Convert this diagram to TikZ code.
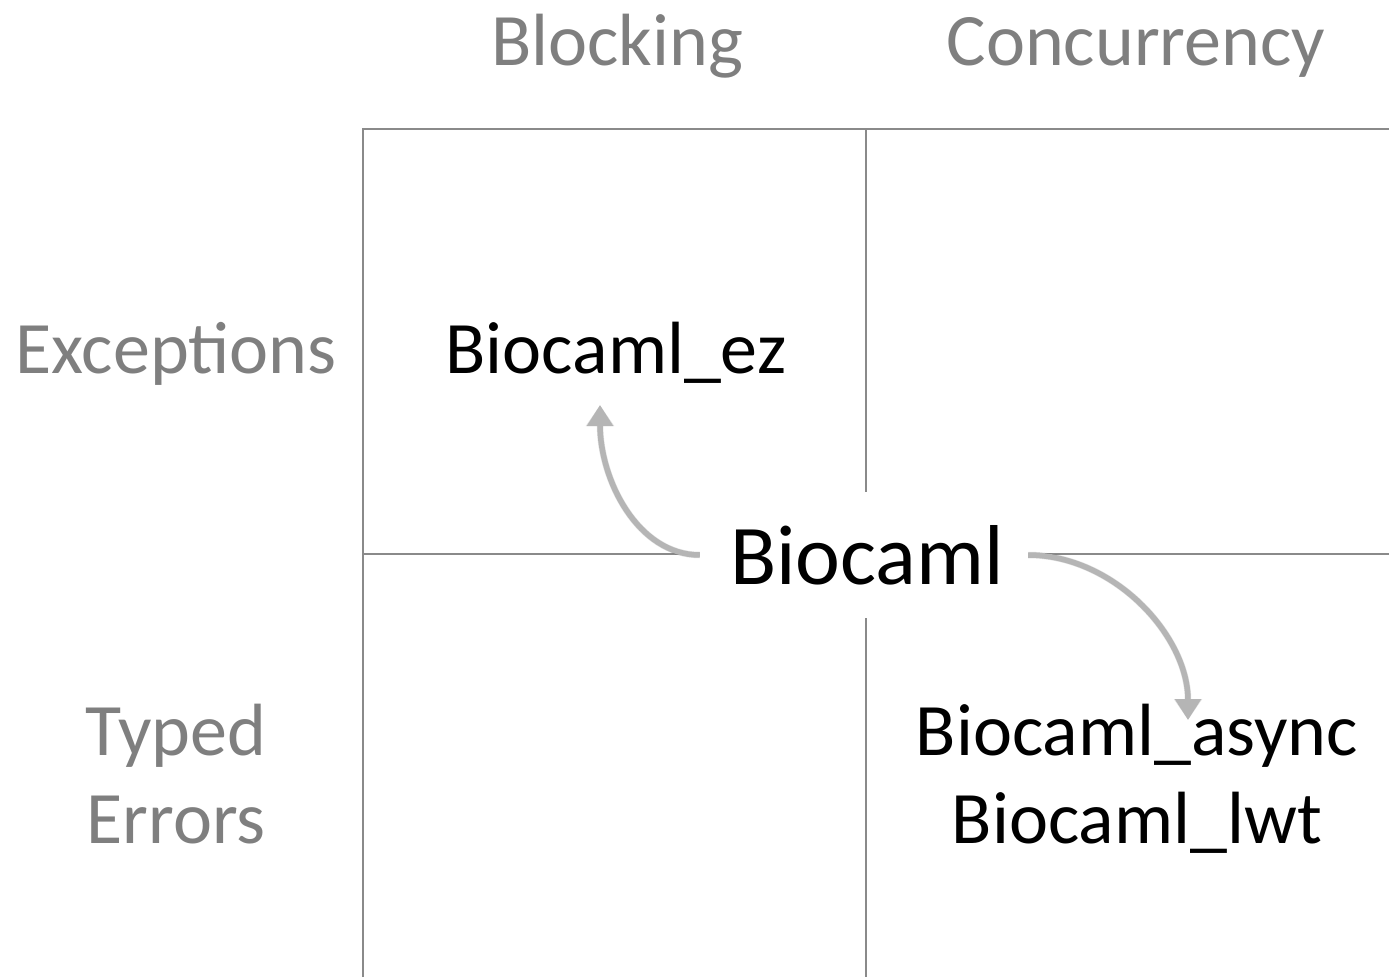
\documentclass[tikz,border=0pt]{standalone}
\usepackage{fontspec}
\setmainfont{Carlito}
\usetikzlibrary{arrows.meta,calc}
\definecolor{gridgray}{HTML}{8A8A8A}
\definecolor{labelgray}{HTML}{7F7F7F}
\definecolor{arrowgray}{HTML}{B5B5B5}
\begin{document}
\begin{tikzpicture}[x=1pt,y=-1pt,
  gridline/.style={draw=gridgray, line width=2.5pt},
  head/.style={text=labelgray, font=\fontsize{74}{88}\selectfont, anchor=base, inner sep=0pt},
  item/.style={text=black, font=\fontsize{74}{88}\selectfont, anchor=base, inner sep=0pt},
  link/.style={draw=arrowgray, line width=5.5pt, -{Triangle[length=21pt,width=25pt]}},
  linkshadow/.style={draw=black, opacity=0.12, line width=6.5pt, -{Triangle[length=21pt,width=27pt]}}]
\useasboundingbox (0,0) rectangle (1389,977);
% grid
\draw[gridline] (363,977) -- (363,129) -- (1389,129);
\draw[gridline] (866,129) -- (866,977);
\draw[gridline] (363,554) -- (1389,554);
% headers
\node[head] (blocking) at (617,65) {Blocking};
\node[head] (concurrency) at (1136,65) {Concurrency};
\node[head] (exceptions) at (176,373) {Exceptions};
\node[head] (typed) at (176,755) {Typed};
\node[head] (errors) at (176,843) {Errors};
% items
\node[item] (ez) at (616,373) {Biocaml\_ez};
\node[item] (async) at (1137,755) {Biocaml\_async};
\node[item] (lwt) at (1137,843) {Biocaml\_lwt};
\node[fill=white, inner sep=0pt, minimum width=328pt, minimum height=126pt,
      font=\fontsize{85}{100}\selectfont] (bio) at (864,555) {\hspace*{6pt}Biocaml};
% arrows
\draw[linkshadow, shift={(2,3)}] (bio.west) .. controls +(-62,0) and +(0,75) .. ($(ez.base)+(-16,32)$);
\draw[linkshadow, shift={(2,3)}] (bio.east) .. controls +(85,0) and +(0,-85) .. ($(async.base)+(51,-35)$);
\draw[link] (bio.west) .. controls +(-62,0) and +(0,75) .. ($(ez.base)+(-16,32)$);
\draw[link] (bio.east) .. controls +(85,0) and +(0,-85) .. ($(async.base)+(51,-35)$);
\end{tikzpicture}
\end{document}
